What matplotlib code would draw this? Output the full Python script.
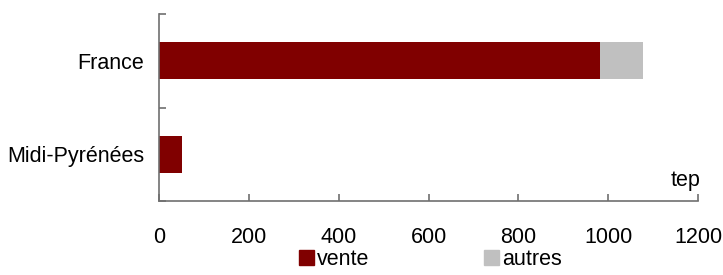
import matplotlib
matplotlib.use("Agg")
from matplotlib import pyplot as plt
from matplotlib.patches import Patch
import numpy as np

plt.rcParams['font.family'] = ['Liberation Sans', 'DejaVu Sans']

regions = ['Midi-Pyrénées', 'France']
vente = [50, 982]
autres = [0, 96]
x_ticks = [0, 200, 400, 600, 800, 1000, 1200]

col_vente = '#800000'
col_autres = '#c0c0c0'
axis_col = '#6f6f6f'
fs = 15.5

fig = plt.figure(figsize=(7.23, 2.75), dpi=100)
ax = fig.add_axes([0.22, 0.269, 0.7454, 0.68])

pos = np.arange(len(regions))
ax.barh(pos, vente, height=0.40, color=col_vente, zorder=2)
ax.barh(pos, autres, left=vente, height=0.40, color=col_autres, zorder=2)

ax.set_xlim(0, 1200)
ax.set_ylim(-0.5, 1.5)
ax.set_xticks(x_ticks)
ax.set_xticklabels([str(v) for v in x_ticks], fontsize=fs)

# category labels at bar centres, ticks between categories
ax.set_yticks([-0.5, 0.5, 1.5])
ax.set_yticklabels(['', '', ''])
ax.set_yticks(pos, minor=True)
ax.set_yticklabels(regions, minor=True, fontsize=fs)

for s in ['top', 'right']:
    ax.spines[s].set_visible(False)
for s in ['left', 'bottom']:
    ax.spines[s].set_color(axis_col)
    ax.spines[s].set_linewidth(1.2)

ax.tick_params(axis='x', direction='in', length=5, width=1.2, color=axis_col, pad=19)
ax.tick_params(axis='y', which='major', direction='in', length=5, width=1.2, color=axis_col)
ax.tick_params(axis='y', which='minor', direction='in', length=4, width=1.2,
               color='#3a0000', pad=10.5)

ax.text(1.004, 0.112, 'tep', transform=ax.transAxes, ha='right', va='center',
        fontsize=fs)

handles = [Patch(color=col_vente, label='vente'), Patch(color=col_autres, label='autres')]
fig.legend(handles=handles, loc='center', bbox_to_anchor=(0.595, 0.055), ncol=2,
           frameon=False, fontsize=fs, handlelength=0.7, handleheight=0.7,
           handletextpad=0.15, columnspacing=5.3, borderpad=0)

fig.savefig('out.png', dpi=100)
